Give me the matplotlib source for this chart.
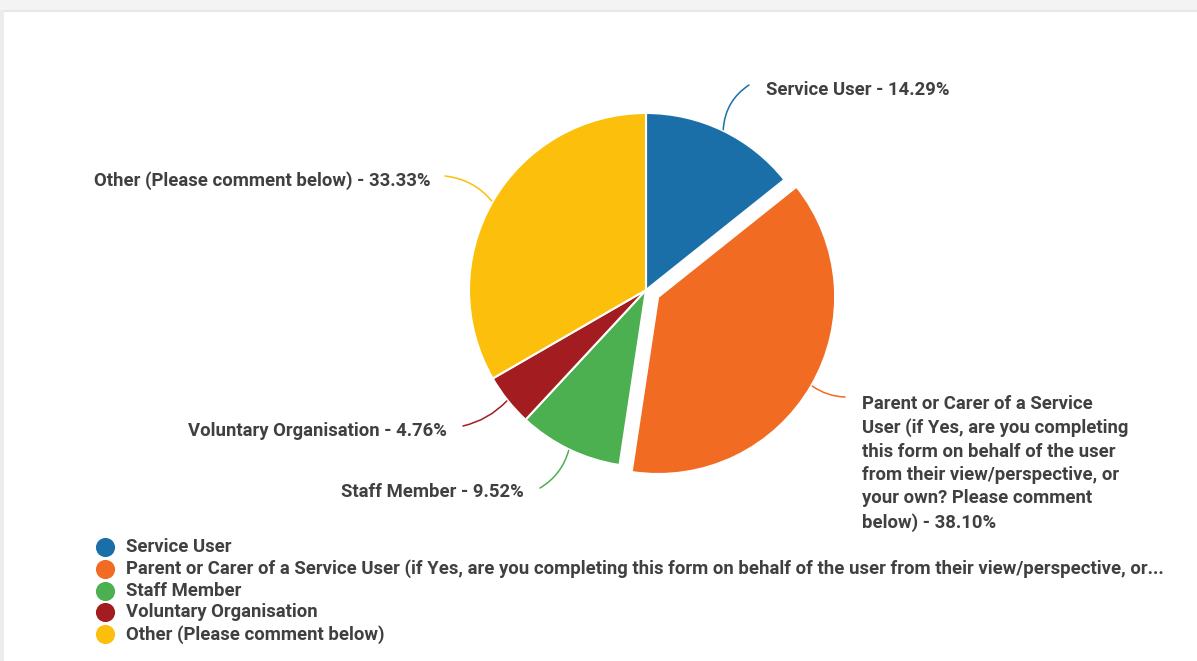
import matplotlib.pyplot as plt
import numpy as np
from matplotlib.patches import Rectangle

# respondent type breakdown
categories = [
    'Service User',
    'Parent or Carer of a Service User (if Yes, are you completing this form on behalf of the user from their view/perspective, or your own? Please comment below)',
    'Staff Member',
    'Voluntary Organisation',
    'Other (Please comment below)',
]
percentages = [14.29, 38.10, 9.52, 4.76, 33.33]
colors = ['#1b6fa8', '#f26b23', '#4caf50', '#a31c1f', '#fcbf0b']
explode_px = [0, 14, 0, 0, 0]

legend_labels = [
    'Service User',
    'Parent or Carer of a Service User (if Yes, are you completing this form on behalf of the user from their view/perspective, or...',
    'Staff Member',
    'Voluntary Organisation',
    'Other (Please comment below)',
]
slice_labels = [
    'Service User - 14.29%',
    'Parent or Carer of a Service\nUser (if Yes, are you completing\nthis form on behalf of the user\nfrom their view/perspective, or\nyour own? Please comment\nbelow) - 38.10%',
    'Staff Member - 9.52%',
    'Voluntary Organisation - 4.76%',
    'Other (Please comment below) - 33.33%',
]

W, H = 1197, 661
plt.rcParams['font.family'] = ['Roboto', 'DejaVu Sans']
text_color = '#404040'
fs = 13.3

fig = plt.figure(figsize=(W / 100, H / 100), dpi=100)
ax = fig.add_axes([0, 0, 1, 1])
ax.set_xlim(0, W)
ax.set_ylim(0, H)
ax.set_aspect('equal')
ax.axis('off')


def py(y):
    # pixel row (from top) to data y
    return H - y


# page frame: grey strip along the top and a thin left edge
ax.add_patch(Rectangle((0, py(10)), W, 10, color='#f3f3f3', lw=0, zorder=0))
ax.add_patch(Rectangle((0, py(12)), W, 2.5, color='#e6e6e6', lw=0, zorder=0))
ax.add_patch(Rectangle((0, 0), 3.5, py(10), color='#ececec', lw=0, zorder=0))

cx, cy, r = 646, py(290), 177
fracs = np.array(percentages) / np.sum(percentages)
# explode is taken in data units here, so pixels go straight in
ax.pie(fracs, colors=colors, startangle=90, counterclock=False,
       radius=r, center=(cx, cy), explode=explode_px,
       wedgeprops=dict(edgecolor='white', linewidth=1.5), normalize=False)
ax.set_xlim(0, W)
ax.set_ylim(0, H)

# label anchor points (pixel coords) and alignment
label_pos = [(766, 90, 'left', 'center'),
             (862, 395, 'left', 'top'),
             (524, 492, 'right', 'center'),
             (447, 431, 'right', 'center'),
             (430, 181, 'right', 'center')]
line_end = [(749, 85), (845, 397), (540, 488), (463, 426), (445, 176)]
line_rad = [-0.25, 0.15, -0.2, -0.15, 0.2]

cum = np.cumsum(fracs) - fracs / 2
for i, lab in enumerate(slice_labels):
    ang = np.deg2rad(90 - 360 * cum[i])
    dist = r + explode_px[i] + 1
    x0 = cx + dist * np.cos(ang)
    y0 = cy + dist * np.sin(ang)
    ex, ey = line_end[i]
    ax.annotate('', xy=(ex, py(ey)), xytext=(x0, y0),
                arrowprops=dict(arrowstyle='-', color=colors[i], lw=1.1,
                                connectionstyle=f'arc3,rad={line_rad[i]}',
                                shrinkA=0, shrinkB=0))
    lx, ly, ha, va = label_pos[i]
    ax.text(lx, py(ly), lab, ha=ha, va=va, fontsize=fs, color=text_color,
            fontweight='bold', linespacing=1.38)

# legend rows
for i, lab in enumerate(legend_labels):
    yy = py(547 + i * 21.8)
    ax.scatter([105], [yy], s=190, color=colors[i], lw=0)
    ax.text(126, yy, lab, ha='left', va='center', fontsize=fs,
            color=text_color, fontweight='bold')

fig.savefig('out.png', dpi=100)
